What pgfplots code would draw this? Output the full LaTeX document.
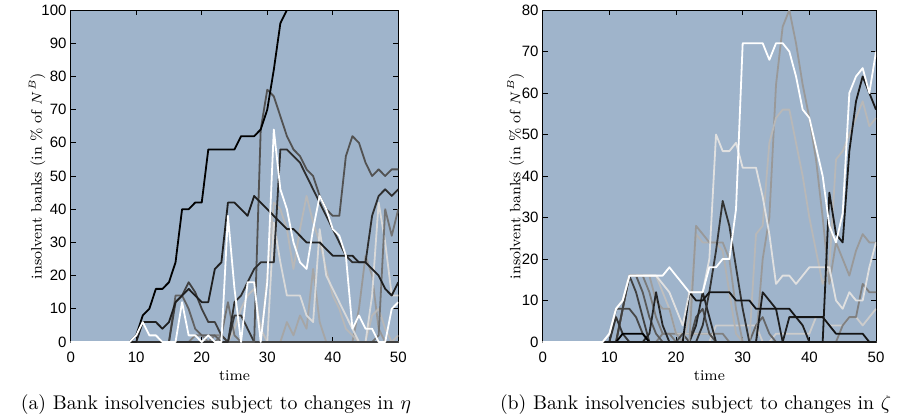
\documentclass[border=0pt]{standalone}
\usepackage{fontspec}
\newfontfamily\tickfont{Liberation Sans}
\usepackage{pgfplots}
\pgfplotsset{compat=1.18}
\definecolor{bg}{RGB}{159,180,203}
\pgfplotsset{myax/.style={
  scale only axis, height=166pt, xmin=0, xmax=50, ymin=0,
  xtick={0,10,...,50}, tick align=inside, xtick pos=both, ytick pos=both,
  major tick length=2.5pt, tick style={black, line width=0.5pt},
  axis line style={black, line width=0.5pt},
  axis background/.style={fill=bg},
  ticklabel style={font=\tickfont\fontsize{7.5}{9}\selectfont, inner sep=0pt},
  xticklabel style={anchor=center, yshift=-7.6pt},
  yticklabel style={anchor=east, xshift=-1.9pt},
  /pgf/number format/assume math mode=true,
  xlabel={time}, ylabel={insolvent banks (in \% of $N^B$)},
  label style={font=\fontsize{7.5}{9}\selectfont},
  xlabel style={at={(axis description cs:0.5,0)}, anchor=center, yshift=-16.6pt},
  every axis plot/.append style={line width=0.9pt, line join=round, mark=none},
}}
\begin{document}
\begin{tikzpicture}
\path[use as bounding box] (0,0) rectangle (452pt,209.5pt);
\begin{axis}[myax, at={(35.35pt,38.5pt)}, anchor=south west, width=163.8pt, ymax=100, ytick={0,10,...,100},
  ylabel style={at={(axis description cs:-0.1029,0.5)}, anchor=center}]
\addplot[color=black!25] coordinates {(0,0)(24,0)(25,4)(26,10)(27,14)(28,16)(29,4)(30,0)(50,0)};
\addplot[color=black!55] coordinates {(0,0)(22,0)(23,2)(24,12)(25,2)(26,0)(50,0)};
\addplot[color=black!50] coordinates {(0,0)(18,0)(19,2)(20,2)(21,0)(22,2)(23,2)(24,0)(50,0)};
\addplot[color=black!35] coordinates {(0,0)(32,0)(33,6)(34,2)(35,8)(36,4)(37,22)(38,6)(39,0)(50,0)};
\addplot[color=black!40] coordinates {(0,0)(43,0)(44,10)(45,26)(46,20)(47,4)(48,0)(50,0)};
\addplot[color=black!28] coordinates {(0,0)(29,0)(30,20)(31,42)(32,40)(33,34)(34,22)(35,34)(36,44)(37,36)(38,30)(39,22)(40,14)(41,10)(42,4)(43,2)(44,0)(45,0)(46,8)(47,10)(48,4)(49,0)(50,2)};
\addplot[color=black!15] coordinates {(0,0)(30,0)(31,36)(32,24)(33,14)(34,14)(35,14)(36,8)(37,6)(38,34)(39,20)(40,16)(41,12)(42,8)(43,4)(44,0)(45,0)(46,14)(47,42)(48,30)(49,14)(50,14)};
\addplot[color=black!55] coordinates {(0,0)(45,0)(46,0)(47,2)(48,40)(49,32)(50,40)};
\addplot[color=black!62] coordinates {(0,0)(15,0)(16,14)(17,14)(18,10)(19,4)(20,2)(21,2)(22,2)(23,0)(50,0)};
\addplot[color=black!78] coordinates {(0,0)(24,0)(25,8)(26,8)(27,4)(28,0)(50,0)};
\addplot[color=black!75] coordinates {(0,0)(15,0)(16,12)(17,14)(18,18)(19,15)(20,10)(21,6)(22,6)(23,2)(24,0)(50,0)};
\addplot[color=black!68] coordinates {(0,0)(28,0)(29,64)(30,76)(31,74)(32,68)(33,62)(34,58)(35,56)(36,52)(37,50)(38,44)(39,40)(40,38)(41,38)(42,56)(43,62)(44,60)(45,54)(46,50)(47,52)(48,50)(49,52)(50,52)};
\addplot[color=black!82] coordinates {(0,0)(24,0)(25,12)(26,14)(27,18)(28,22)(29,24)(30,24)(31,24)(32,58)(33,58)(34,56)(35,54)(36,50)(37,46)(38,42)(39,38)(40,34)(41,30)(42,26)(43,24)(44,24)(45,24)(46,38)(47,44)(48,46)(49,44)(50,46)};
\addplot[color=black!88] coordinates {(0,0)(10,0)(11,6)(12,6)(13,6)(14,4)(15,6)(16,12)(17,14)(18,16)(19,14)(20,12)(21,12)(22,22)(23,24)(24,42)(25,42)(26,40)(27,38)(28,44)(29,42)(30,40)(31,38)(32,36)(33,34)(34,34)(35,32)(36,30)(37,30)(38,30)(39,28)(40,26)(41,26)(42,26)(43,26)(44,24)(45,24)(46,22)(47,20)(48,16)(49,14)(50,18)};
\addplot[color=black] coordinates {(0,0)(9,0)(10,2)(11,8)(12,10)(13,16)(14,16)(15,18)(16,24)(17,40)(18,40)(19,42)(20,42)(21,58)(22,58)(23,58)(24,58)(25,58)(26,62)(27,62)(28,62)(29,64)(30,70)(31,82)(32,96)(33,100)(50,100)};
\addplot[color=white] coordinates {(0,0)(9,0)(10,2)(11,6)(12,2)(13,2)(14,0)(16,0)(17,12)(18,2)(19,2)(20,0)(21,2)(22,0)(23,0)(24,38)(25,16)(26,0)(27,18)(28,18)(29,0)(30,18)(31,64)(32,46)(33,40)(34,30)(35,24)(36,22)(37,34)(38,44)(39,40)(40,34)(41,32)(42,26)(43,4)(44,8)(45,4)(46,4)(47,0)(48,0)(49,10)(50,12)};
\end{axis}
\begin{axis}[myax, at={(271.35pt,38.5pt)}, anchor=south west, width=166.65pt, ymax=80, ytick={0,10,...,80},
  ylabel style={at={(axis description cs:-0.081,0.5)}, anchor=center}]
\addplot[color=black!50] coordinates {(0,0)(17,0)(18,2)(19,2)(20,2)(21,2)(22,2)(23,2)(24,2)(25,2)(26,2)(27,2)(28,0)(50,0)};
\addplot[color=black!20] coordinates {(0,0)(25,0)(26,4)(27,4)(28,4)(29,4)(30,4)(31,4)(32,4)(33,0)(34,0)(35,2)(36,2)(37,2)(38,2)(39,2)(40,2)(41,6)(42,6)(43,4)(44,4)(45,4)(46,6)(47,6)(48,4)(49,6)(50,8)};
\addplot[color=black!50] coordinates {(0,0)(44,0)(45,4)(46,6)(47,6)(48,14)(49,12)(50,12)};
\addplot[color=black!60] coordinates {(0,0)(31,0)(32,4)(33,6)(34,2)(35,0)(50,0)};
\addplot[color=black!25] coordinates {(0,0)(11,0)(12,8)(13,16)(14,16)(15,16)(16,16)(17,16)(18,12)(19,8)(20,2)(21,2)(22,2)(23,2)(24,2)(25,2)(26,0)(50,0)};
\addplot[color=black!38] coordinates {(0,0)(11,0)(12,8)(13,16)(14,16)(15,16)(16,16)(17,10)(18,8)(19,8)(20,2)(21,0)(50,0)};
\addplot[color=black!52] coordinates {(0,0)(11,0)(12,8)(13,16)(14,16)(15,16)(16,12)(17,6)(18,2)(19,2)(20,0)(50,0)};
\addplot[color=black!65] coordinates {(0,0)(11,0)(12,8)(13,16)(14,16)(15,12)(16,6)(17,2)(18,0)(50,0)};
\addplot[color=black!75] coordinates {(0,0)(11,0)(12,8)(13,16)(14,12)(15,6)(16,0)(50,0)};
\addplot[color=black!72] coordinates {(0,0)(10,0)(11,8)(12,8)(13,8)(14,6)(15,2)(16,0)(50,0)};
\addplot[color=black!80] coordinates {(0,0)(10,0)(11,6)(12,2)(13,0)(50,0)};
\addplot[color=black!70] coordinates {(0,0)(20,0)(21,2)(22,0)(23,6)(24,8)(25,2)(26,0)(50,0)};
\addplot[color=black!85] coordinates {(0,0)(15,0)(16,2)(17,12)(18,4)(19,0)(50,0)};
\addplot[color=black!85] coordinates {(0,0)(22,0)(23,4)(24,12)(25,6)(26,0)(50,0)};
\addplot[color=black] coordinates {(0,0)(11,0)(12,2)(13,2)(14,2)(15,2)(16,0)(50,0)};
\addplot[color=black!30] coordinates {(0,0)(21,0)(22,6)(23,26)(24,24)(25,24)(26,24)(27,22)(28,12)(29,2)(30,0)(50,0)};
\addplot[color=black!40] coordinates {(0,0)(22,0)(23,28)(24,26)(25,24)(26,24)(27,24)(28,20)(29,8)(30,0)(31,0)(32,0)(33,20)(34,30)(35,62)(36,76)(37,80)(38,72)(39,62)(40,54)(41,44)(42,30)(43,14)(44,24)(45,20)(46,16)(47,22)(48,26)(49,24)(50,24)};
\addplot[color=black!28] coordinates {(0,0)(31,0)(32,26)(33,28)(34,48)(35,54)(36,56)(37,56)(38,48)(39,40)(40,30)(41,22)(42,14)(43,18)(44,44)(45,46)(46,50)(47,54)(48,58)(49,52)(50,54)};
\addplot[color=black!80] coordinates {(0,0)(23,0)(24,4)(25,12)(26,22)(27,34)(28,28)(29,18)(30,8)(31,0)(50,0)};
\addplot[color=black!88] coordinates {(0,0)(32,0)(33,12)(34,10)(35,8)(36,0)(37,6)(38,6)(39,4)(40,0)(50,0)};
\addplot[color=black!92] coordinates {(0,0)(21,0)(22,12)(23,10)(24,10)(25,12)(26,12)(27,12)(28,12)(29,10)(30,10)(31,10)(32,8)(33,8)(34,8)(35,8)(36,8)(37,8)(38,6)(39,6)(40,6)(41,6)(42,6)(43,4)(44,2)(45,2)(46,2)(47,2)(48,2)(49,0)(50,0)};
\addplot[color=black!12] coordinates {(0,0)(9,0)(10,2)(11,8)(12,10)(13,16)(14,16)(15,16)(16,16)(17,16)(18,14)(19,12)(20,8)(21,4)(22,12)(23,12)(24,12)(25,20)(26,50)(27,46)(28,46)(29,48)(30,42)(31,42)(32,42)(33,35)(34,26)(35,14)(36,16)(37,16)(38,14)(39,16)(40,18)(41,18)(42,18)(43,18)(44,10)(45,8)(46,12)(47,10)(48,10)(49,18)(50,24)};
\addplot[color=black!90] coordinates {(0,0)(42,0)(43,36)(44,26)(45,24)(46,46)(47,58)(48,64)(49,60)(50,56)};
\addplot[color=white] coordinates {(0,0)(9,0)(10,2)(11,8)(12,10)(13,16)(14,16)(15,16)(16,16)(17,16)(18,16)(19,18)(20,16)(21,14)(22,12)(23,12)(24,12)(25,18)(26,18)(27,20)(28,20)(29,32)(30,72)(31,72)(32,72)(33,72)(34,68)(35,72)(36,72)(37,70)(38,64)(39,56)(40,54)(41,47)(42,40)(43,28)(44,24)(45,31)(46,60)(47,64)(48,66)(49,60)(50,70)};
\end{axis}
\node[font=\fontsize{9.9}{11}\selectfont] at (108pt,7pt) {(a) Bank insolvencies subject to changes in $\eta$};
\node[font=\fontsize{9.9}{11}\selectfont] at (347.75pt,7pt) {(b) Bank insolvencies subject to changes in $\zeta$};
\end{tikzpicture}
\end{document}
